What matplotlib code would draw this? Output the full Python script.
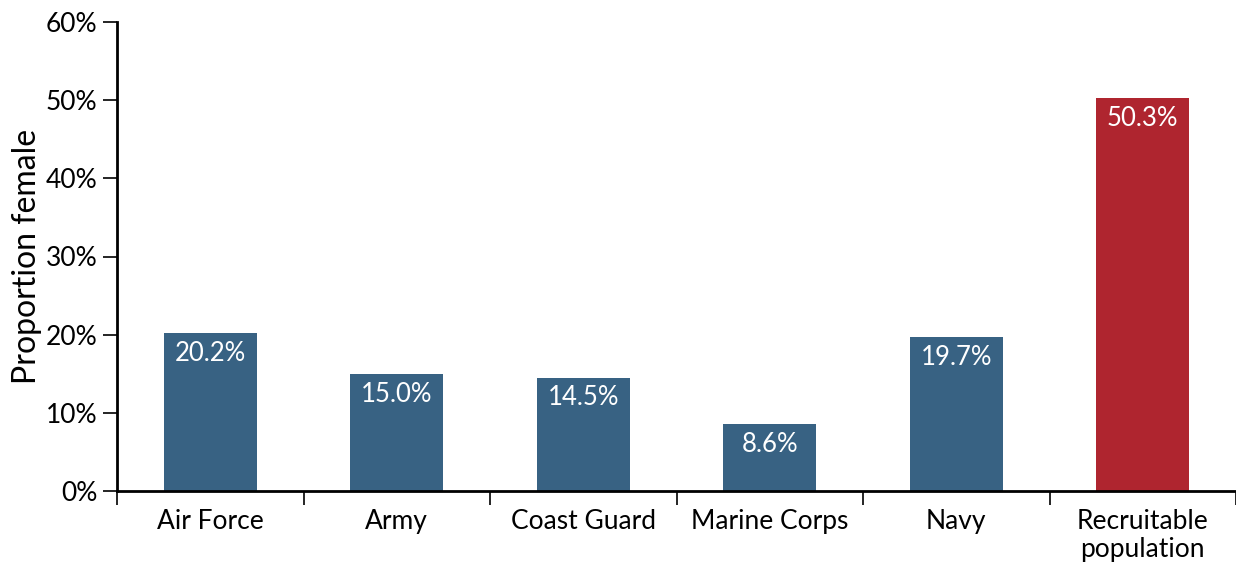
import numpy as np
import matplotlib
matplotlib.use("Agg")
import matplotlib.pyplot as plt
from matplotlib.ticker import FixedLocator, PercentFormatter

categories = ["Air Force", "Army", "Coast Guard", "Marine Corps", "Navy", "Recruitable\npopulation"]
pct_female = [20.2, 15.0, 14.5, 8.6, 19.7, 50.3]
bar_colors = ["#386283", "#386283", "#386283", "#386283", "#386283", "#AF252F"]

plt.rcParams["font.family"] = ["Lato", "DejaVu Sans"]

fig = plt.figure(figsize=(12.36, 5.63), dpi=100)
ax = fig.add_axes([117 / 1236, 72 / 563, 1 - 117 / 1236, (491 - 22) / 563])

x = np.arange(len(categories))
ax.bar(x, pct_female, width=0.5, color=bar_colors)
for xi, v in zip(x, pct_female):
    ax.text(xi, v - 1.0, f"{v:.1f}%", ha="center", va="top", color="white", fontsize=18.5)

ax.set_xlim(-0.5, len(categories) - 0.5)
ax.set_ylim(0, 60)
ax.set_yticks(np.arange(0, 61, 10))
ax.yaxis.set_major_formatter(PercentFormatter(decimals=0))
ax.set_xticks(x)
ax.set_xticklabels(categories, fontsize=19, linespacing=1.15)
ax.xaxis.set_minor_locator(FixedLocator(np.arange(-0.5, len(categories), 1)))
ax.tick_params(axis="x", which="major", length=0, pad=13)
ax.tick_params(axis="x", which="minor", length=10, width=1.2)
ax.tick_params(axis="y", labelsize=19, length=10, width=1.2, pad=4)
ax.set_ylabel("Proportion female", fontsize=23, labelpad=3)

for s in ["top", "right"]:
    ax.spines[s].set_visible(False)
for s in ["left", "bottom"]:
    ax.spines[s].set_linewidth(2)

fig.savefig("out.png", dpi=100)
